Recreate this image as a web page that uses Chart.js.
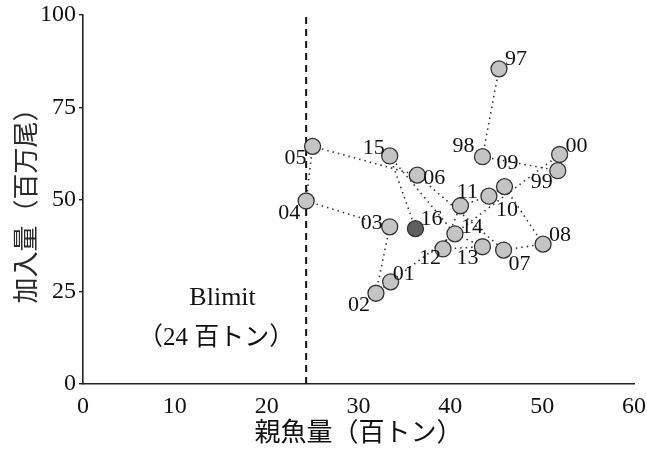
<!DOCTYPE html>
<html>
<head>
<meta charset="utf-8">
<script src="https://cdn.jsdelivr.net/npm/chart.js@4"></script>
<style>
html,body{margin:0;padding:0;background:#fff;}
canvas{display:block;}
</style>
</head>
<body>
<canvas id="c" width="647" height="450"></canvas>
<script>
// ---- data ----
const years = ['97','98','99','00','01','02','03','04','05','06','07','08','09','10','11','12','13','14','15','16'];
const spawningStock = [45.3,43.5,51.7,51.9,33.5,31.9,33.4,24.3,25.0,36.4,45.8,50.1,45.9,44.2,41.1,39.2,43.5,40.5,33.4,36.2];
const recruitment   = [85.4,61.6,57.8,62.2,27.7,24.6,42.6,49.6,64.4,56.6,36.3,37.9,53.5,50.9,48.3,36.6,37.2,40.7,61.8,42.1];
const blimitValue = 24.3;
const blimitLabel = ['Blimit', '（24 百トン）'];
const xTicks = [0,10,20,30,40,50,60];
const yTicks = [0,25,50,75,100];
const xTitle = '親魚量（百トン）';
const yTitle = '加入量（百万尾）';

// ---- styles (label offsets in px) ----
const labelOffsets = {
  '97':[17,-10],'98':[-19,-10],'99':[-16,12],'00':[17,-8],'01':[13,-8],'02':[-17,12],
  '03':[-18,-4],'04':[-17,12],'05':[-17,12],'06':[17,3],'07':[16,14],'08':[17,-9],
  '09':[3,-23],'10':[18,14],'11':[7,-14],'12':[-13,9],'13':[-15,11],'14':[17,-7],
  '15':[-16,-8],'16':[16,-9]
};
const SERIF = '"Liberation Serif", "Noto Sans CJK JP", serif';

const points = spawningStock.map((x,i)=>({x:x,y:recruitment[i]}));
const pointFill = years.map(y => y === '16' ? '#5f5f5f' : '#c4c4c4');

const labelPlugin = {
  id:'labels',
  afterDatasetsDraw(chart){
    const ctx = chart.ctx;
    const meta = chart.getDatasetMeta(0);
    ctx.save();
    ctx.fillStyle = '#111';
    ctx.font = '22px ' + SERIF;
    ctx.textAlign = 'center';
    ctx.textBaseline = 'middle';
    meta.data.forEach((el,i)=>{
      const off = labelOffsets[years[i]] || [14,-10];
      ctx.fillText(years[i], el.x + off[0], el.y + off[1]);
    });
    // Blimit annotation
    const xs = chart.scales.x, ys = chart.scales.y;
    ctx.font = '26px ' + SERIF;
    ctx.fillText(blimitLabel[0], xs.getPixelForValue(15.2), ys.getPixelForValue(23.3));
    ctx.font = '25px ' + SERIF;
    ctx.fillText(blimitLabel[1], xs.getPixelForValue(14.5), ys.getPixelForValue(12.4));
    ctx.restore();
  }
};

new Chart(document.getElementById('c'), {
  type:'scatter',
  data:{
    datasets:[
      {
        data: points,
        showLine:true,
        borderColor:'#333',
        borderWidth:1.6,
        borderDash:[1.5,4],
        pointRadius:8,
        pointHoverRadius:8,
        pointBackgroundColor: pointFill,
        pointBorderColor:'#333',
        pointBorderWidth:1.3,
        tension:0
      },
      {
        data:[{x:blimitValue,y:0},{x:blimitValue,y:100.5}],
        showLine:true,
        borderColor:'#111',
        borderWidth:2,
        borderDash:[7,5],
        pointRadius:0,
        pointHoverRadius:0
      }
    ]
  },
  plugins:[labelPlugin],
  options:{
    responsive:false,
    animation:false,
    events:[],
    layout:{padding:{top:15,right:13,left:0,bottom:0}},
    plugins:{legend:{display:false},tooltip:{enabled:false}},
    scales:{
      x:{
        type:'linear', min:0, max:60,
        afterBuildTicks(s){ s.ticks = xTicks.map(v=>({value:v})); },
        afterFit(s){ s.height = 66; s.paddingLeft = 0; s.paddingRight = 0; },
        grid:{display:true, drawOnChartArea:false, drawTicks:false, color:'#000'},
        border:{display:true, color:'#222', width:1.6},
        ticks:{color:'#111', font:{family:SERIF,size:24}, padding:8, maxRotation:0},
        title:{display:true, text:xTitle, color:'#111', font:{family:SERIF,size:26}, padding:{top:0,bottom:0}}
      },
      y:{
        type:'linear', min:0, max:100,
        afterBuildTicks(s){ s.ticks = yTicks.map(v=>({value:v})); },
        afterFit(s){ s.width = 83; s.paddingTop = 0; s.paddingBottom = 0; },
        grid:{display:true, drawOnChartArea:false, drawTicks:true, tickLength:4, color:'#222', lineWidth:1.4},
        border:{display:true, color:'#222', width:1.6},
        ticks:{color:'#111', font:{family:SERIF,size:24}, padding:3},
        title:{display:true, text:yTitle, color:'#2a2a2a', font:{family:SERIF,size:26}, padding:{top:13,bottom:0}}
      }
    }
  }
});
</script>
</body>
</html>
